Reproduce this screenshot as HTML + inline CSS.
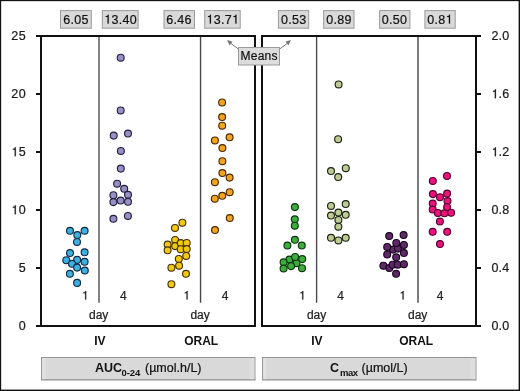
<!DOCTYPE html><html><head><meta charset="utf-8"><style>
html,body{margin:0;padding:0;background:#fff;}
body{width:520px;height:391px;overflow:hidden;position:relative;}
svg{display:block;position:absolute;left:0;top:0;will-change:transform;}
text{font-family:"Liberation Sans", sans-serif;stroke:#1a1a1a;stroke-width:0.22px;paint-order:stroke;} text[font-weight=bold]{stroke-width:0;}
</style></head><body>
<svg width="520" height="391" viewBox="0 0 520 391">
<rect x="0" y="0" width="520" height="391" fill="#fff"/>
<rect x="60.50" y="10.6" width="30.80" height="17.6" fill="#d9d9d9" stroke="#9a9a9a" stroke-width="1"/>
<text x="76.05" y="23.50" font-size="12.50" text-anchor="middle" fill="#111" style="letter-spacing:0.30px">6.05</text>
<rect x="102.30" y="10.6" width="35.80" height="17.6" fill="#d9d9d9" stroke="#9a9a9a" stroke-width="1"/>
<path d="M362 0L362 709L290 709C281 645 262 616 200 600C180 595 150 590 128 590L128 520L272 520L272 0Z" transform="translate(104.16 23.50) scale(0.01250 -0.01250)" fill="#111" stroke="#111" stroke-width="0.22" vector-effect="non-scaling-stroke"/>
<text x="111.41" y="23.50" font-size="12.50" fill="#111" style="letter-spacing:0.30px">3.40</text>
<rect x="164.00" y="10.6" width="30.50" height="17.6" fill="#d9d9d9" stroke="#9a9a9a" stroke-width="1"/>
<text x="179.00" y="23.50" font-size="12.50" text-anchor="middle" fill="#111" style="letter-spacing:0.30px">6.46</text>
<rect x="204.70" y="10.6" width="35.50" height="17.6" fill="#d9d9d9" stroke="#9a9a9a" stroke-width="1"/>
<path d="M362 0L362 709L290 709C281 645 262 616 200 600C180 595 150 590 128 590L128 520L272 520L272 0Z" transform="translate(206.41 23.50) scale(0.01250 -0.01250)" fill="#111" stroke="#111" stroke-width="0.22" vector-effect="non-scaling-stroke"/>
<text x="213.66" y="23.50" font-size="12.50" fill="#111" style="letter-spacing:0.30px">3.7</text>
<path d="M362 0L362 709L290 709C281 645 262 616 200 600C180 595 150 590 128 590L128 520L272 520L272 0Z" transform="translate(231.94 23.50) scale(0.01250 -0.01250)" fill="#111" stroke="#111" stroke-width="0.22" vector-effect="non-scaling-stroke"/>
<rect x="278.40" y="10.6" width="30.30" height="17.6" fill="#d9d9d9" stroke="#9a9a9a" stroke-width="1"/>
<text x="293.70" y="23.50" font-size="12.50" text-anchor="middle" fill="#111" style="letter-spacing:0.30px">0.53</text>
<rect x="323.70" y="10.6" width="30.30" height="17.6" fill="#d9d9d9" stroke="#9a9a9a" stroke-width="1"/>
<text x="339.00" y="23.50" font-size="12.50" text-anchor="middle" fill="#111" style="letter-spacing:0.30px">0.89</text>
<rect x="379.60" y="10.6" width="30.30" height="17.6" fill="#d9d9d9" stroke="#9a9a9a" stroke-width="1"/>
<text x="394.60" y="23.50" font-size="12.50" text-anchor="middle" fill="#111" style="letter-spacing:0.30px">0.50</text>
<rect x="424.90" y="10.6" width="30.30" height="17.6" fill="#d9d9d9" stroke="#9a9a9a" stroke-width="1"/>
<text x="427.24" y="23.50" font-size="12.50" fill="#111" style="letter-spacing:0.30px">0.8</text>
<path d="M362 0L362 709L290 709C281 645 262 616 200 600C180 595 150 590 128 590L128 520L272 520L272 0Z" transform="translate(445.51 23.50) scale(0.01250 -0.01250)" fill="#111" stroke="#111" stroke-width="0.22" vector-effect="non-scaling-stroke"/>
<line x1="99.00" y1="36" x2="99.00" y2="302.8" stroke="#828282" stroke-width="2.00"/>
<line x1="200.55" y1="36" x2="200.55" y2="302.8" stroke="#484848" stroke-width="1.40"/>
<rect x="41.0" y="36" width="214.0" height="290" fill="none" stroke="#111" stroke-width="2"/>
<line x1="316.60" y1="36" x2="316.60" y2="302.8" stroke="#4c4c4c" stroke-width="1.40"/>
<line x1="418.00" y1="36" x2="418.00" y2="302.8" stroke="#7c7c7c" stroke-width="2.00"/>
<rect x="262.0" y="36" width="214.0" height="290" fill="none" stroke="#111" stroke-width="2"/>
<line x1="36" y1="326.0" x2="41" y2="326.0" stroke="#111" stroke-width="2"/>
<text x="26.00" y="330.20" font-size="12.50" text-anchor="end" fill="#1a1a1a" style="letter-spacing:0.40px">0</text>
<line x1="36" y1="268.0" x2="41" y2="268.0" stroke="#111" stroke-width="2"/>
<text x="26.00" y="272.20" font-size="12.50" text-anchor="end" fill="#1a1a1a" style="letter-spacing:0.40px">5</text>
<line x1="36" y1="210.0" x2="41" y2="210.0" stroke="#111" stroke-width="2"/>
<path d="M362 0L362 709L290 709C281 645 262 616 200 600C180 595 150 590 128 590L128 520L272 520L272 0Z" transform="translate(11.30 214.20) scale(0.01250 -0.01250)" fill="#1a1a1a" stroke="#1a1a1a" stroke-width="0.22" vector-effect="non-scaling-stroke"/>
<text x="18.65" y="214.20" font-size="12.50" fill="#1a1a1a" style="letter-spacing:0.40px">0</text>
<line x1="36" y1="152.0" x2="41" y2="152.0" stroke="#111" stroke-width="2"/>
<path d="M362 0L362 709L290 709C281 645 262 616 200 600C180 595 150 590 128 590L128 520L272 520L272 0Z" transform="translate(11.30 156.20) scale(0.01250 -0.01250)" fill="#1a1a1a" stroke="#1a1a1a" stroke-width="0.22" vector-effect="non-scaling-stroke"/>
<text x="18.65" y="156.20" font-size="12.50" fill="#1a1a1a" style="letter-spacing:0.40px">5</text>
<line x1="36" y1="94.0" x2="41" y2="94.0" stroke="#111" stroke-width="2"/>
<text x="26.00" y="98.20" font-size="12.50" text-anchor="end" fill="#1a1a1a" style="letter-spacing:0.40px">20</text>
<line x1="36" y1="36.0" x2="41" y2="36.0" stroke="#111" stroke-width="2"/>
<text x="26.00" y="40.20" font-size="12.50" text-anchor="end" fill="#1a1a1a" style="letter-spacing:0.40px">25</text>
<line x1="476" y1="326.0" x2="481" y2="326.0" stroke="#111" stroke-width="2"/>
<text x="491.40" y="330.20" font-size="12.50" fill="#1a1a1a" style="letter-spacing:0.20px">0.0</text>
<line x1="476" y1="268.0" x2="481" y2="268.0" stroke="#111" stroke-width="2"/>
<text x="491.40" y="272.20" font-size="12.50" fill="#1a1a1a" style="letter-spacing:0.20px">0.4</text>
<line x1="476" y1="210.0" x2="481" y2="210.0" stroke="#111" stroke-width="2"/>
<text x="491.40" y="214.20" font-size="12.50" fill="#1a1a1a" style="letter-spacing:0.20px">0.8</text>
<line x1="476" y1="152.0" x2="481" y2="152.0" stroke="#111" stroke-width="2"/>
<path d="M362 0L362 709L290 709C281 645 262 616 200 600C180 595 150 590 128 590L128 520L272 520L272 0Z" transform="translate(491.40 156.20) scale(0.01250 -0.01250)" fill="#1a1a1a" stroke="#1a1a1a" stroke-width="0.22" vector-effect="non-scaling-stroke"/>
<text x="498.55" y="156.20" font-size="12.50" fill="#1a1a1a" style="letter-spacing:0.20px">.2</text>
<line x1="476" y1="94.0" x2="481" y2="94.0" stroke="#111" stroke-width="2"/>
<path d="M362 0L362 709L290 709C281 645 262 616 200 600C180 595 150 590 128 590L128 520L272 520L272 0Z" transform="translate(491.40 98.20) scale(0.01250 -0.01250)" fill="#1a1a1a" stroke="#1a1a1a" stroke-width="0.22" vector-effect="non-scaling-stroke"/>
<text x="498.55" y="98.20" font-size="12.50" fill="#1a1a1a" style="letter-spacing:0.20px">.6</text>
<line x1="476" y1="36.0" x2="481" y2="36.0" stroke="#111" stroke-width="2"/>
<text x="491.40" y="40.20" font-size="12.50" fill="#1a1a1a" style="letter-spacing:0.20px">2.0</text>
<path d="M362 0L362 709L290 709C281 645 262 616 200 600C180 595 150 590 128 590L128 520L272 520L272 0Z" transform="translate(81.86 299.50) scale(0.01200 -0.01200)" fill="#222" stroke="#222" stroke-width="0.22" vector-effect="non-scaling-stroke"/>
<text x="123.4" y="299.5" font-size="12" text-anchor="middle" fill="#222">4</text>
<text x="98.7" y="319.0" font-size="12" text-anchor="middle" fill="#222">day</text>
<path d="M362 0L362 709L290 709C281 645 262 616 200 600C180 595 150 590 128 590L128 520L272 520L272 0Z" transform="translate(183.26 299.50) scale(0.01200 -0.01200)" fill="#222" stroke="#222" stroke-width="0.22" vector-effect="non-scaling-stroke"/>
<text x="225.0" y="299.5" font-size="12" text-anchor="middle" fill="#222">4</text>
<text x="200.1" y="319.0" font-size="12" text-anchor="middle" fill="#222">day</text>
<path d="M362 0L362 709L290 709C281 645 262 616 200 600C180 595 150 590 128 590L128 520L272 520L272 0Z" transform="translate(298.96 299.50) scale(0.01200 -0.01200)" fill="#222" stroke="#222" stroke-width="0.22" vector-effect="non-scaling-stroke"/>
<text x="340.6" y="299.5" font-size="12" text-anchor="middle" fill="#222">4</text>
<text x="316.6" y="319.0" font-size="12" text-anchor="middle" fill="#222">day</text>
<path d="M362 0L362 709L290 709C281 645 262 616 200 600C180 595 150 590 128 590L128 520L272 520L272 0Z" transform="translate(399.26 299.50) scale(0.01200 -0.01200)" fill="#222" stroke="#222" stroke-width="0.22" vector-effect="non-scaling-stroke"/>
<text x="440.2" y="299.5" font-size="12" text-anchor="middle" fill="#222">4</text>
<text x="417.7" y="319.0" font-size="12" text-anchor="middle" fill="#222">day</text>
<text x="99.8" y="345.2" font-size="12" font-weight="bold" text-anchor="middle" fill="#111">IV</text>
<text x="201.2" y="345.2" font-size="12" font-weight="bold" text-anchor="middle" fill="#111">ORAL</text>
<text x="316.8" y="345.2" font-size="12" font-weight="bold" text-anchor="middle" fill="#111">IV</text>
<text x="416.2" y="345.2" font-size="12" font-weight="bold" text-anchor="middle" fill="#111">ORAL</text>
<rect x="41.5" y="357.5" width="213.5" height="22.3" fill="#d9d9d9" stroke="#959595" stroke-width="1"/>
<rect x="42.2" y="358" width="3.2" height="21.3" fill="#e1e1e1"/>
<rect x="249.3" y="358" width="5" height="21.3" fill="#dddddd"/>
<line x1="41.0" y1="379.9" x2="255.5" y2="379.9" stroke="#959595" stroke-width="0.8"/>
<rect x="262.5" y="357.5" width="213.5" height="22.3" fill="#d9d9d9" stroke="#959595" stroke-width="1"/>
<rect x="263.2" y="358" width="3.2" height="21.3" fill="#e1e1e1"/>
<rect x="470.3" y="358" width="5" height="21.3" fill="#dddddd"/>
<line x1="262.0" y1="379.9" x2="476.5" y2="379.9" stroke="#959595" stroke-width="0.8"/>
<text x="95.0" y="372.4" font-size="12.5" font-weight="bold" fill="#111">AUC</text>
<text x="121.4" y="376.0" font-size="9.5" font-weight="bold" fill="#111">0-24</text>
<text x="145.0" y="372.4" font-size="12.5" fill="#111">(µmol.h/L)</text>
<text x="330.0" y="372.4" font-size="12.5" font-weight="bold" fill="#111">C</text>
<text x="340.0" y="376.0" font-size="9.5" font-weight="bold" fill="#111" style="letter-spacing:-0.45px">max</text>
<text x="361.6" y="372.4" font-size="12.5" fill="#111">(µmol/L)</text>
<circle cx="70.0" cy="230.8" r="3.45" fill="#3db0e0" stroke="#0c2c48" stroke-width="1.15"/>
<circle cx="84.6" cy="230.8" r="3.45" fill="#3db0e0" stroke="#0c2c48" stroke-width="1.15"/>
<circle cx="77.3" cy="235.0" r="3.45" fill="#3db0e0" stroke="#0c2c48" stroke-width="1.15"/>
<circle cx="77.0" cy="241.9" r="3.45" fill="#3db0e0" stroke="#0c2c48" stroke-width="1.15"/>
<circle cx="70.0" cy="253.0" r="3.45" fill="#3db0e0" stroke="#0c2c48" stroke-width="1.15"/>
<circle cx="84.6" cy="252.3" r="3.45" fill="#3db0e0" stroke="#0c2c48" stroke-width="1.15"/>
<circle cx="66.3" cy="260.2" r="3.45" fill="#3db0e0" stroke="#0c2c48" stroke-width="1.15"/>
<circle cx="77.1" cy="259.9" r="3.45" fill="#3db0e0" stroke="#0c2c48" stroke-width="1.15"/>
<circle cx="84.6" cy="261.8" r="3.45" fill="#3db0e0" stroke="#0c2c48" stroke-width="1.15"/>
<circle cx="72.0" cy="263.8" r="3.45" fill="#3db0e0" stroke="#0c2c48" stroke-width="1.15"/>
<circle cx="77.1" cy="267.6" r="3.45" fill="#3db0e0" stroke="#0c2c48" stroke-width="1.15"/>
<circle cx="84.8" cy="270.5" r="3.45" fill="#3db0e0" stroke="#0c2c48" stroke-width="1.15"/>
<circle cx="69.9" cy="273.8" r="3.45" fill="#3db0e0" stroke="#0c2c48" stroke-width="1.15"/>
<circle cx="77.1" cy="282.9" r="3.45" fill="#3db0e0" stroke="#0c2c48" stroke-width="1.15"/>
<circle cx="120.7" cy="57.7" r="3.45" fill="#9690c3" stroke="#241f40" stroke-width="1.15"/>
<circle cx="120.7" cy="110.4" r="3.45" fill="#9690c3" stroke="#241f40" stroke-width="1.15"/>
<circle cx="113.7" cy="135.6" r="3.45" fill="#9690c3" stroke="#241f40" stroke-width="1.15"/>
<circle cx="128.0" cy="133.5" r="3.45" fill="#9690c3" stroke="#241f40" stroke-width="1.15"/>
<circle cx="120.9" cy="150.9" r="3.45" fill="#9690c3" stroke="#241f40" stroke-width="1.15"/>
<circle cx="120.8" cy="168.6" r="3.45" fill="#9690c3" stroke="#241f40" stroke-width="1.15"/>
<circle cx="117.1" cy="183.7" r="3.45" fill="#9690c3" stroke="#241f40" stroke-width="1.15"/>
<circle cx="124.2" cy="188.8" r="3.45" fill="#9690c3" stroke="#241f40" stroke-width="1.15"/>
<circle cx="128.0" cy="194.8" r="3.45" fill="#9690c3" stroke="#241f40" stroke-width="1.15"/>
<circle cx="113.4" cy="195.2" r="3.45" fill="#9690c3" stroke="#241f40" stroke-width="1.15"/>
<circle cx="113.4" cy="202.1" r="3.45" fill="#9690c3" stroke="#241f40" stroke-width="1.15"/>
<circle cx="120.6" cy="200.5" r="3.45" fill="#9690c3" stroke="#241f40" stroke-width="1.15"/>
<circle cx="128.0" cy="201.8" r="3.45" fill="#9690c3" stroke="#241f40" stroke-width="1.15"/>
<circle cx="127.9" cy="215.9" r="3.45" fill="#9690c3" stroke="#241f40" stroke-width="1.15"/>
<circle cx="113.4" cy="218.8" r="3.45" fill="#9690c3" stroke="#241f40" stroke-width="1.15"/>
<circle cx="182.4" cy="222.7" r="3.45" fill="#f0c912" stroke="#4a3000" stroke-width="1.15"/>
<circle cx="175.0" cy="227.9" r="3.45" fill="#f0c912" stroke="#4a3000" stroke-width="1.15"/>
<circle cx="175.1" cy="239.9" r="3.45" fill="#f0c912" stroke="#4a3000" stroke-width="1.15"/>
<circle cx="167.6" cy="244.6" r="3.45" fill="#f0c912" stroke="#4a3000" stroke-width="1.15"/>
<circle cx="175.1" cy="246.1" r="3.45" fill="#f0c912" stroke="#4a3000" stroke-width="1.15"/>
<circle cx="180.7" cy="243.0" r="3.45" fill="#f0c912" stroke="#4a3000" stroke-width="1.15"/>
<circle cx="186.7" cy="242.9" r="3.45" fill="#f0c912" stroke="#4a3000" stroke-width="1.15"/>
<circle cx="167.6" cy="250.3" r="3.45" fill="#f0c912" stroke="#4a3000" stroke-width="1.15"/>
<circle cx="180.7" cy="249.2" r="3.45" fill="#f0c912" stroke="#4a3000" stroke-width="1.15"/>
<circle cx="186.7" cy="249.1" r="3.45" fill="#f0c912" stroke="#4a3000" stroke-width="1.15"/>
<circle cx="186.2" cy="255.9" r="3.45" fill="#f0c912" stroke="#4a3000" stroke-width="1.15"/>
<circle cx="178.8" cy="258.9" r="3.45" fill="#f0c912" stroke="#4a3000" stroke-width="1.15"/>
<circle cx="179.1" cy="265.7" r="3.45" fill="#f0c912" stroke="#4a3000" stroke-width="1.15"/>
<circle cx="171.4" cy="267.7" r="3.45" fill="#f0c912" stroke="#4a3000" stroke-width="1.15"/>
<circle cx="186.0" cy="273.8" r="3.45" fill="#f0c912" stroke="#4a3000" stroke-width="1.15"/>
<circle cx="171.4" cy="284.2" r="3.45" fill="#f0c912" stroke="#4a3000" stroke-width="1.15"/>
<circle cx="222.1" cy="102.4" r="3.45" fill="#f3a41f" stroke="#4a2800" stroke-width="1.15"/>
<circle cx="222.1" cy="117.0" r="3.45" fill="#f3a41f" stroke="#4a2800" stroke-width="1.15"/>
<circle cx="222.2" cy="125.7" r="3.45" fill="#f3a41f" stroke="#4a2800" stroke-width="1.15"/>
<circle cx="214.9" cy="140.4" r="3.45" fill="#f3a41f" stroke="#4a2800" stroke-width="1.15"/>
<circle cx="229.6" cy="137.3" r="3.45" fill="#f3a41f" stroke="#4a2800" stroke-width="1.15"/>
<circle cx="222.4" cy="148.0" r="3.45" fill="#f3a41f" stroke="#4a2800" stroke-width="1.15"/>
<circle cx="222.4" cy="161.2" r="3.45" fill="#f3a41f" stroke="#4a2800" stroke-width="1.15"/>
<circle cx="222.4" cy="173.0" r="3.45" fill="#f3a41f" stroke="#4a2800" stroke-width="1.15"/>
<circle cx="229.6" cy="177.6" r="3.45" fill="#f3a41f" stroke="#4a2800" stroke-width="1.15"/>
<circle cx="214.9" cy="182.2" r="3.45" fill="#f3a41f" stroke="#4a2800" stroke-width="1.15"/>
<circle cx="229.7" cy="192.2" r="3.45" fill="#f3a41f" stroke="#4a2800" stroke-width="1.15"/>
<circle cx="222.3" cy="195.8" r="3.45" fill="#f3a41f" stroke="#4a2800" stroke-width="1.15"/>
<circle cx="214.8" cy="198.7" r="3.45" fill="#f3a41f" stroke="#4a2800" stroke-width="1.15"/>
<circle cx="229.8" cy="218.0" r="3.45" fill="#f3a41f" stroke="#4a2800" stroke-width="1.15"/>
<circle cx="215.0" cy="230.0" r="3.45" fill="#f3a41f" stroke="#4a2800" stroke-width="1.15"/>
<circle cx="296.5" cy="263.2" r="3.45" fill="#3eac3e" stroke="#0a360c" stroke-width="1.15"/>
<circle cx="294.9" cy="207.1" r="3.45" fill="#3eac3e" stroke="#0a360c" stroke-width="1.15"/>
<circle cx="294.8" cy="219.3" r="3.45" fill="#3eac3e" stroke="#0a360c" stroke-width="1.15"/>
<circle cx="294.8" cy="225.7" r="3.45" fill="#3eac3e" stroke="#0a360c" stroke-width="1.15"/>
<circle cx="294.9" cy="239.8" r="3.45" fill="#3eac3e" stroke="#0a360c" stroke-width="1.15"/>
<circle cx="287.4" cy="245.5" r="3.45" fill="#3eac3e" stroke="#0a360c" stroke-width="1.15"/>
<circle cx="301.8" cy="245.5" r="3.45" fill="#3eac3e" stroke="#0a360c" stroke-width="1.15"/>
<circle cx="289.4" cy="259.5" r="3.45" fill="#3eac3e" stroke="#0a360c" stroke-width="1.15"/>
<circle cx="295.1" cy="256.9" r="3.45" fill="#3eac3e" stroke="#0a360c" stroke-width="1.15"/>
<circle cx="302.2" cy="259.1" r="3.45" fill="#3eac3e" stroke="#0a360c" stroke-width="1.15"/>
<circle cx="283.6" cy="262.3" r="3.45" fill="#3eac3e" stroke="#0a360c" stroke-width="1.15"/>
<circle cx="291.1" cy="266.1" r="3.45" fill="#3eac3e" stroke="#0a360c" stroke-width="1.15"/>
<circle cx="283.6" cy="268.5" r="3.45" fill="#3eac3e" stroke="#0a360c" stroke-width="1.15"/>
<circle cx="302.0" cy="268.2" r="3.45" fill="#3eac3e" stroke="#0a360c" stroke-width="1.15"/>
<circle cx="338.6" cy="84.4" r="3.45" fill="#bfcb96" stroke="#1a2210" stroke-width="1.15"/>
<circle cx="338.1" cy="139.2" r="3.45" fill="#bfcb96" stroke="#1a2210" stroke-width="1.15"/>
<circle cx="345.8" cy="168.2" r="3.45" fill="#bfcb96" stroke="#1a2210" stroke-width="1.15"/>
<circle cx="331.0" cy="171.0" r="3.45" fill="#bfcb96" stroke="#1a2210" stroke-width="1.15"/>
<circle cx="338.2" cy="177.0" r="3.45" fill="#bfcb96" stroke="#1a2210" stroke-width="1.15"/>
<circle cx="331.0" cy="205.9" r="3.45" fill="#bfcb96" stroke="#1a2210" stroke-width="1.15"/>
<circle cx="345.7" cy="204.0" r="3.45" fill="#bfcb96" stroke="#1a2210" stroke-width="1.15"/>
<circle cx="331.0" cy="215.5" r="3.45" fill="#bfcb96" stroke="#1a2210" stroke-width="1.15"/>
<circle cx="338.4" cy="212.6" r="3.45" fill="#bfcb96" stroke="#1a2210" stroke-width="1.15"/>
<circle cx="345.7" cy="214.8" r="3.45" fill="#bfcb96" stroke="#1a2210" stroke-width="1.15"/>
<circle cx="338.4" cy="219.9" r="3.45" fill="#bfcb96" stroke="#1a2210" stroke-width="1.15"/>
<circle cx="338.4" cy="226.7" r="3.45" fill="#bfcb96" stroke="#1a2210" stroke-width="1.15"/>
<circle cx="331.0" cy="237.8" r="3.45" fill="#bfcb96" stroke="#1a2210" stroke-width="1.15"/>
<circle cx="338.4" cy="240.4" r="3.45" fill="#bfcb96" stroke="#1a2210" stroke-width="1.15"/>
<circle cx="345.7" cy="237.8" r="3.45" fill="#bfcb96" stroke="#1a2210" stroke-width="1.15"/>
<circle cx="393.1" cy="249.6" r="3.45" fill="#5e2a66" stroke="#1a0020" stroke-width="1.15"/>
<circle cx="398.0" cy="248.6" r="3.45" fill="#5e2a66" stroke="#1a0020" stroke-width="1.15"/>
<circle cx="389.2" cy="236.0" r="3.45" fill="#5e2a66" stroke="#1a0020" stroke-width="1.15"/>
<circle cx="403.6" cy="235.0" r="3.45" fill="#5e2a66" stroke="#1a0020" stroke-width="1.15"/>
<circle cx="396.3" cy="242.9" r="3.45" fill="#5e2a66" stroke="#1a0020" stroke-width="1.15"/>
<circle cx="387.2" cy="246.9" r="3.45" fill="#5e2a66" stroke="#1a0020" stroke-width="1.15"/>
<circle cx="403.9" cy="244.9" r="3.45" fill="#5e2a66" stroke="#1a0020" stroke-width="1.15"/>
<circle cx="387.2" cy="254.4" r="3.45" fill="#5e2a66" stroke="#1a0020" stroke-width="1.15"/>
<circle cx="403.9" cy="253.0" r="3.45" fill="#5e2a66" stroke="#1a0020" stroke-width="1.15"/>
<circle cx="396.2" cy="257.3" r="3.45" fill="#5e2a66" stroke="#1a0020" stroke-width="1.15"/>
<circle cx="383.4" cy="265.7" r="3.45" fill="#5e2a66" stroke="#1a0020" stroke-width="1.15"/>
<circle cx="389.3" cy="268.0" r="3.45" fill="#5e2a66" stroke="#1a0020" stroke-width="1.15"/>
<circle cx="392.6" cy="264.7" r="3.45" fill="#5e2a66" stroke="#1a0020" stroke-width="1.15"/>
<circle cx="397.7" cy="264.7" r="3.45" fill="#5e2a66" stroke="#1a0020" stroke-width="1.15"/>
<circle cx="403.9" cy="264.2" r="3.45" fill="#5e2a66" stroke="#1a0020" stroke-width="1.15"/>
<circle cx="396.1" cy="273.8" r="3.45" fill="#5e2a66" stroke="#1a0020" stroke-width="1.15"/>
<circle cx="447.0" cy="175.9" r="3.45" fill="#ec137a" stroke="#520030" stroke-width="1.15"/>
<circle cx="432.8" cy="180.9" r="3.45" fill="#ec137a" stroke="#520030" stroke-width="1.15"/>
<circle cx="432.9" cy="194.1" r="3.45" fill="#ec137a" stroke="#520030" stroke-width="1.15"/>
<circle cx="447.1" cy="193.5" r="3.45" fill="#ec137a" stroke="#520030" stroke-width="1.15"/>
<circle cx="440.0" cy="197.2" r="3.45" fill="#ec137a" stroke="#520030" stroke-width="1.15"/>
<circle cx="447.5" cy="201.0" r="3.45" fill="#ec137a" stroke="#520030" stroke-width="1.15"/>
<circle cx="432.7" cy="203.5" r="3.45" fill="#ec137a" stroke="#520030" stroke-width="1.15"/>
<circle cx="447.1" cy="207.2" r="3.45" fill="#ec137a" stroke="#520030" stroke-width="1.15"/>
<circle cx="432.7" cy="209.5" r="3.45" fill="#ec137a" stroke="#520030" stroke-width="1.15"/>
<circle cx="437.9" cy="212.9" r="3.45" fill="#ec137a" stroke="#520030" stroke-width="1.15"/>
<circle cx="444.4" cy="213.3" r="3.45" fill="#ec137a" stroke="#520030" stroke-width="1.15"/>
<circle cx="451.1" cy="212.7" r="3.45" fill="#ec137a" stroke="#520030" stroke-width="1.15"/>
<circle cx="439.9" cy="221.5" r="3.45" fill="#ec137a" stroke="#520030" stroke-width="1.15"/>
<circle cx="432.7" cy="231.8" r="3.45" fill="#ec137a" stroke="#520030" stroke-width="1.15"/>
<circle cx="447.2" cy="231.8" r="3.45" fill="#ec137a" stroke="#520030" stroke-width="1.15"/>
<circle cx="440.0" cy="244.0" r="3.45" fill="#ec137a" stroke="#520030" stroke-width="1.15"/>
<line x1="239" y1="49.5" x2="229" y2="42" stroke="#777" stroke-width="1"/>
<line x1="279" y1="49.5" x2="289" y2="42" stroke="#777" stroke-width="1"/>
<polygon points="227,40 229.6,45.6 232.4,41.6" fill="#777"/>
<polygon points="291,40 288.4,45.6 285.6,41.6" fill="#777"/>
<rect x="238.5" y="47.5" width="41" height="17.5" fill="#dcdcdc" stroke="#9a9a9a" stroke-width="1"/>
<text x="259.1" y="60.0" font-size="12" text-anchor="middle" fill="#111" style="letter-spacing:0.2px">Means</text>
<rect x="0" y="0" width="520" height="1.15" fill="#111"/>
<rect x="0" y="0" width="1.15" height="391" fill="#111"/>
<rect x="518.6" y="0" width="1.4" height="391" fill="#111"/>
<rect x="0" y="389.6" width="520" height="1.4" fill="#111"/>
</svg></body></html>
